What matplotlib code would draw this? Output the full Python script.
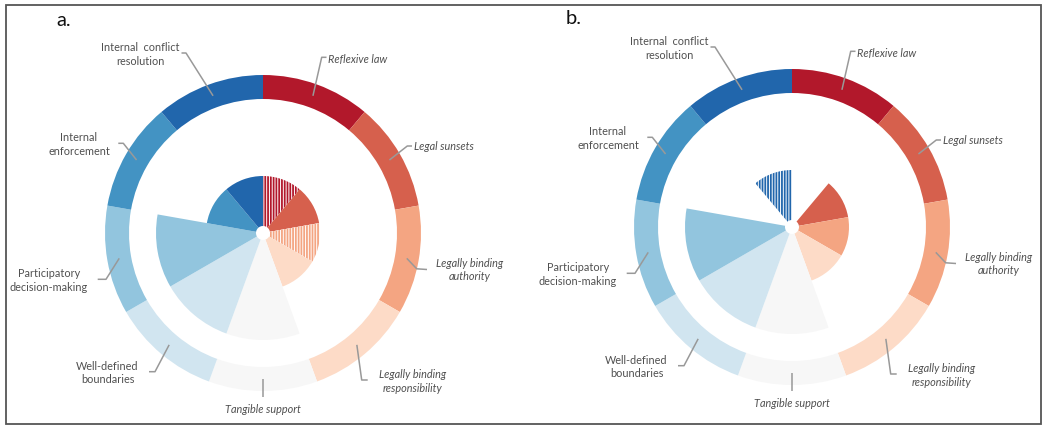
import numpy as np
import matplotlib
matplotlib.use("Agg")
import matplotlib.pyplot as plt
from matplotlib.patches import Rectangle

plt.rcParams['font.family'] = ['Lato', 'DejaVu Sans']
plt.rcParams['hatch.linewidth'] = 1.3

# ---------------- data ----------------
categories = ["Reflexive law", "Legal sunsets", "Legally binding\nauthority",
              "Legally binding\nresponsibility", "Tangible support",
              "Well-defined\nboundaries", "Participatory\ndecision-making",
              "Internal\nenforcement", "Internal  conflict\nresolution"]
colors = ["#b2182b", "#d6604d", "#f4a582", "#fddbc7", "#f7f7f7",
          "#d1e5f0", "#92c5de", "#4393c3", "#2166ac"]
italic = [True, True, True, True, True, False, False, False, False]

values_a = [1, 1, 1, 1, 2, 2, 2, 1, 1]
hatched_a = [True, False, True, False, False, False, False, False, False]
values_b = [0, 1, 1, 1, 2, 2, 2, 0, 1]
hatched_b = [False, False, False, False, False, False, False, False, True]

# ---------------- layout (pixels relative to centre, y up) ----------------
PX = 50.0            # pixels per data unit
HOLE = 7 / PX
RING_IN, RING_OUT = 134 / PX, 158 / PX
RMAX = 160 / PX
LEAD_R = 146 / PX
# elbow, end, text centre
leaders = [
    ((58.7, 175.7), (63.5, 175.7), (95, 173.7)),
    ((144.3, 87), (149, 87), (181, 86.5)),
    ((153.7, -35.8), (164, -36.5), (207, -37)),
    ((98.7, -147), (104.7, -147), (149.5, -148.5)),
    ((0, -163.7), (0, -163.7), (0, -176.5)),
    ((-108, -138.7), (-114, -138.7), (-155.5, -140)),
    ((-157, -46.3), (-165.3, -46.3), (-214, -47.5)),
    ((-139.7, 89.7), (-144.7, 89.7), (-184, 88.5)),
    ((-77, 180), (-81.5, 180), (-123, 178.5)),
]

W, H = 1050, 429
fig = plt.figure(figsize=(W / 100, H / 100), dpi=100)
fig.patches.append(Rectangle((6 / W, 5 / H), (1041 - 6) / W, (424 - 5) / H,
                             transform=fig.transFigure, fill=False,
                             edgecolor="#555555", linewidth=1.3))

n = len(categories)
width = 2 * np.pi / n
theta = np.arange(n) * width + width / 2


def panel(cx, cy, values, hatched, letter):
    rect = [(cx - 160) / W, (H - cy - 160) / H, 320 / W, 320 / H]
    ax = fig.add_axes(rect, projection="polar")
    ax.set_theta_zero_location("N")
    ax.set_theta_direction(-1)
    ax.set_ylim(0, RMAX)
    ax.set_axis_off()
    # outer ring
    ax.bar(theta, RING_OUT - RING_IN, width=width, bottom=RING_IN,
           color=colors, linewidth=0, antialiased=True)
    # inner rose
    for t, v, c, h in zip(theta, values, colors, hatched):
        if v <= 0:
            continue
        if h:
            ax.bar(t, v, width=width, bottom=HOLE, facecolor="white",
                   edgecolor=c, hatch="||||||", linewidth=0)
        else:
            ax.bar(t, v, width=width, bottom=HOLE, color=c, linewidth=0)

    ov = fig.add_axes(rect)
    ov.set_xlim(-RMAX, RMAX)
    ov.set_ylim(-RMAX, RMAX)
    ov.set_axis_off()
    for t, cat, it, (elb, end, txt) in zip(theta, categories, italic, leaders):
        sx, sy = LEAD_R * np.sin(t), LEAD_R * np.cos(t)
        xs = [sx, elb[0] / PX, end[0] / PX]
        ys = [sy, elb[1] / PX, end[1] / PX]
        ov.plot(xs, ys, color="#999999", linewidth=1.1, clip_on=False,
                solid_capstyle="butt")
        ov.text(txt[0] / PX, txt[1] / PX, cat, ha="center", va="center",
                multialignment="center", fontsize=7.8, color="#505050",
                style="italic" if it else "normal", linespacing=1.25,
                clip_on=False)
    fig.text(letter[1] / W, 1 - letter[2] / H, letter[0], fontsize=14.5,
             ha="center", va="center", color="#111111")


panel(263, 233, values_a, hatched_a, ("a.", 64, 20))
panel(792, 227, values_b, hatched_b, ("b.", 574, 19))

fig.savefig("out.png", dpi=100, facecolor="white")
